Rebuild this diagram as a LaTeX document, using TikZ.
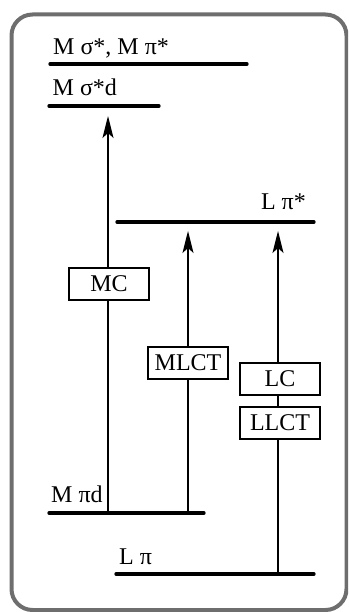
\documentclass[tikz,border=0pt]{standalone}
\usepackage{fontspec}
\setmainfont{Liberation Serif}
\usetikzlibrary{arrows.meta}
\begin{document}
\begin{tikzpicture}[x=1pt,y=-1pt,
  level/.style={line width=3.3pt,line cap=round},
  lab/.style={inner sep=0pt,anchor=base west,font=\fontsize{24}{28}\selectfont},
  trans/.style={line width=1.3pt,-{Stealth[length=22pt,width=11pt,inset=5pt]}},
  tbox/.style={draw,line width=1.3pt,fill=white,minimum width=80pt,minimum height=32pt,inner sep=0pt,font=\fontsize{24}{28}\selectfont},
  frame/.style={draw=black!57,line width=4pt,rounded corners=21pt}]
\useasboundingbox (0,0) rectangle (348,612);
\begin{scope}
\clip (0,0) rectangle (348,612);
\draw[frame] (11.5,14.5) rectangle (346.5,610);
\end{scope}
% levels
\coordinate (a1) at (50,64);  \coordinate (a2) at (247,64);
\coordinate (b1) at (49,106); \coordinate (b2) at (159,106);
\coordinate (c1) at (117,222); \coordinate (c2) at (314,222);
\coordinate (d1) at (49,513); \coordinate (d2) at (204,513);
\coordinate (e1) at (116,574); \coordinate (e2) at (314,574);
\draw[level] (a1) -- (a2);
\draw[level] (b1) -- (b2);
\draw[level] (c1) -- (c2);
\draw[level] (d1) -- (d2);
\draw[level] (e1) -- (e2);
\node[lab] (la) at (53,55) {M σ*, M π*};
\node[lab] (lb) at (52.5,95.5) {M σ*d};
\node[lab,anchor=base east] (lc) at (306,209) {L π*};
\node[lab] (ld) at (51,502) {M πd};
\node[lab] (le) at (119,564) {L π};
% transitions
\coordinate (mc0) at (108,513);  \coordinate (mc1) at (108,116);
\coordinate (ml0) at (188,513);  \coordinate (ml1) at (188,231);
\coordinate (lc0) at (278,574);  \coordinate (lc1) at (278,231);
\draw[trans] (mc0) -- (mc1);
\draw[trans] (ml0) -- (ml1);
\draw[trans] (lc0) -- (lc1);
\node[tbox] (bmc) at (109,284) {MC};
\node[tbox] (bml) at (188,363) {MLCT};
\node[tbox] (blc) at (280,379) {LC};
\node[tbox] (bll) at (280,423) {LLCT};
\end{tikzpicture}
\end{document}
